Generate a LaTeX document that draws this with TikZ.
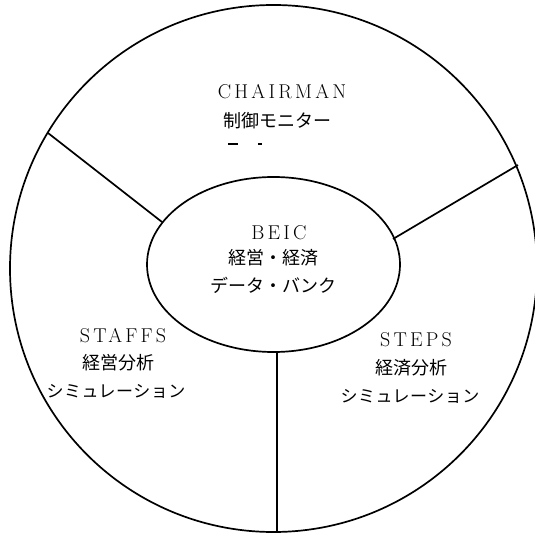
\documentclass[tikz,border=0pt]{standalone}
\usepackage{fontspec}
\setmainfont{Latin Modern Roman}
\newfontfamily\jp{Noto Sans CJK JP}
\tikzset{
  rim/.style={line width=1.7pt},
  lat/.style={font=\fontsize{20}{20}\selectfont\addfontfeature{LetterSpace=16}, inner sep=0pt},
  jpt/.style={font=\jp\fontsize{18}{18}\selectfont, inner sep=0pt},
  jpk/.style={font=\jp\fontsize{17}{17}\selectfont\addfontfeature{LetterSpace=3}, inner sep=0pt},
}
\begin{document}
\begin{tikzpicture}[x=1pt,y=-1pt]
\useasboundingbox (0,0) rectangle (535,534);
\clip (0,0) rectangle (535,534);
% outer circle and inner ellipse
\draw[rim] (273.5,268.5) circle[radius=263.5pt];
\draw[rim] (273.5,264.5) ellipse[x radius=126.5pt, y radius=87.5pt];
% connector end points
\coordinate (cL) at (48,133);  \coordinate (eL) at (162,222);
\coordinate (cR) at (518,165); \coordinate (eR) at (393,239);
\coordinate (eB) at (277,352); \coordinate (cB) at (277,532);
\draw[rim] (cL) -- (eL);
\draw[rim] (cR) -- (eR);
\draw[rim] (eB) -- (cB);
% top sector
\node[lat] (chair) at (282,92) {CHAIRMAN};
\node[jpt] (chairj) at (277,121) {制御モニター};
\draw[line width=1.2pt] (228,144) -- (238,144);
\draw[line width=1.2pt] (258,144) -- (262,144);
% centre
\node[lat] (beic) at (279,232.5) {BEIC};
\node[jpt] (beic1) at (273.5,257.5) {経営・経済};
\node[jpt] (beic2) at (273.5,285) {データ・バンク};
% left sector
\node[lat] (staffs) at (123,336) {STAFFS};
\node[jpt] (staffs1) at (118,363) {経営分析};
\node[jpk] (staffs2) at (116,391) {シミュレーション};
% right sector
\node[lat] (steps) at (416,340) {STEPS};
\node[jpt] (steps1) at (411,368) {経済分析};
\node[jpk] (steps2) at (410,396) {シミュレーション};
\end{tikzpicture}
\end{document}
